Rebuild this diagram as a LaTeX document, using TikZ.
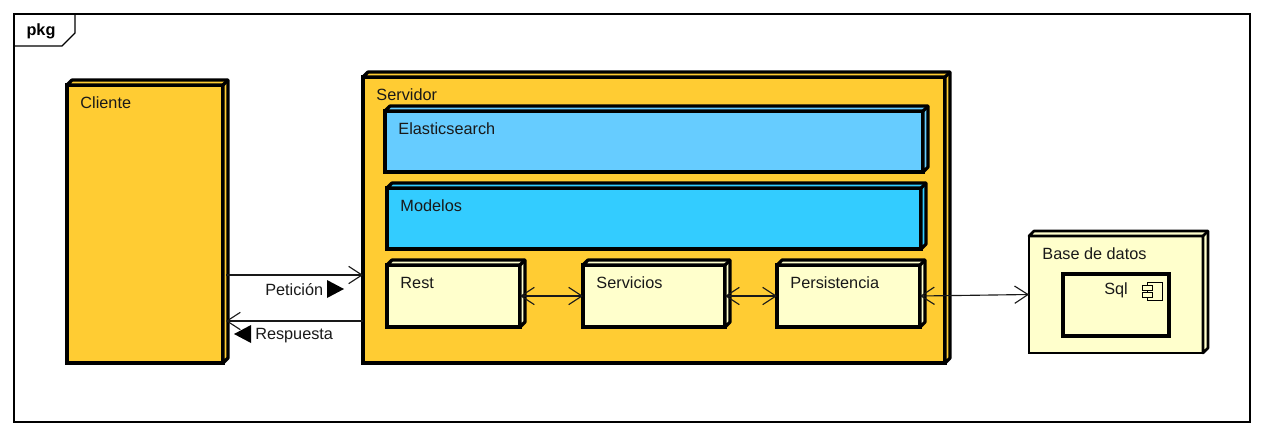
\documentclass[tikz,border=0pt]{standalone}
\usepackage{xcolor}
\usepackage{fontspec}
\setmainfont{Liberation Sans}
\usetikzlibrary{arrows.meta}

\definecolor{nodeorange}{HTML}{FFCC33}
\definecolor{lightblue}{HTML}{66CCFF}
\definecolor{strongblue}{HTML}{33CCFF}
\definecolor{cream}{HTML}{FFFFCC}

\tikzset{
    boxfront/.style={draw=black, line width=2.4pt, anchor=north west, inner sep=0pt, outer sep=0pt},
    boxtext/.style={anchor=west, inner sep=0pt, font=\fontsize{12.2}{14}\selectfont, text=black!90},
    link/.style={line width=0.85pt, black!90},
    both/.style={link, {Straight Barb[length=10pt,width=13pt]}-{Straight Barb[length=10pt,width=13pt]}},
    single/.style={link, -{Straight Barb[length=10pt,width=13pt]}}
}

% name, x, y, w, h, colour, text
\newcommand{\deploybox}[8][2.4pt]{
    \node[boxfront, line width=#1, fill=#7, minimum width=#5*0.75pt, minimum height=#6*0.75pt] (#2) at (#3,#4) {};
    \draw[line width=#1, fill=#7, line join=round] (#2.north west) -- ++(5,-5) -- ++(#5,0) -- ++(0,#6) -- ++(-5,5) -- (#2.north east) -- cycle;
    \draw[line width=#1] (#2.north east) -- ++(5,-5);
    \node[boxtext] (#2text) at ([shift={(13.2,17.8)}]#2.north west) {#8};
}

\begin{document}
\begin{tikzpicture}[x=0.75pt,y=-0.75pt]
    \useasboundingbox (0,0) rectangle (1264,436);

    % frame
    \node[draw=black, line width=0.9pt, anchor=north west, inner sep=0pt, outer sep=0pt, minimum width=1236*0.75pt, minimum height=408*0.75pt] (frame) at (14,14) {};
    \draw[line width=0.9pt] (75,14) -- (75,33) -- (62,46) -- (14,46);
    \node[font=\fontsize{12.2}{14}\selectfont\bfseries, inner sep=0pt] (pkg) at (41,31) {pkg};

    \deploybox{cliente}{67}{85}{156}{278}{nodeorange}{Cliente}
    \deploybox{servidor}{363}{77}{582}{286}{nodeorange}{Servidor}
    \deploybox{elastic}{385}{111}{538}{61}{lightblue}{Elasticsearch}
    \deploybox{modelos}{387}{188}{534}{61}{strongblue}{Modelos}
    \deploybox{rest}{387}{265}{133}{62}{cream}{Rest}
    \deploybox{servicios}{583}{265}{142}{62}{cream}{Servicios}
    \deploybox{persistencia}{777}{265}{143}{62}{cream}{Persistencia}
    \deploybox[2pt]{base}{1029}{236}{174}{117}{cream}{Base de datos}

    % component
    \node[boxfront, fill=cream, minimum width=106*0.75pt, minimum height=62*0.75pt] (sql) at (1063,274) {};
    \node[boxtext] (sqltext) at (1104,290) {Sql};
    \node[draw=black, line width=0.75pt, fill=cream, anchor=north west, inner sep=0pt, outer sep=0pt, minimum width=15*0.75pt, minimum height=18*0.75pt] (sqlicon) at (1147,282) {};
    \node[draw=black, line width=0.75pt, fill=cream, anchor=north west, inner sep=0pt, minimum width=10*0.75pt, minimum height=5*0.75pt] (sqliconup) at (1142,285) {};
    \node[draw=black, line width=0.75pt, fill=cream, anchor=north west, inner sep=0pt, minimum width=10*0.75pt, minimum height=5*0.75pt] (sqlicondown) at (1142,292) {};

    % connectors
    \coordinate (peticionline) at (300,275);
    \coordinate (respuestaline) at (300,321);
    \draw[single] (cliente.east |- peticionline) ++(3,0) -- (servidor.west |- peticionline);
    \draw[single] (servidor.west |- respuestaline) -- ([xshift=2.2pt]cliente.east |- respuestaline);
    \draw[both] (rest.east) -- (servicios.west);
    \draw[both] (servicios.east) -- (persistencia.west);
    \draw[both] (persistencia.east) -- (base.west);

    % labels
    \node[boxtext] (peticion) at (265,289.5) {Petición};
    \node[boxtext] (respuesta) at (255,335.5) {Respuesta};
    \fill[black] (327,280) -- (344,289) -- (327,298) -- cycle;
    \fill[black] (251,325) -- (234,334) -- (251,343) -- cycle;
\end{tikzpicture}
\end{document}
